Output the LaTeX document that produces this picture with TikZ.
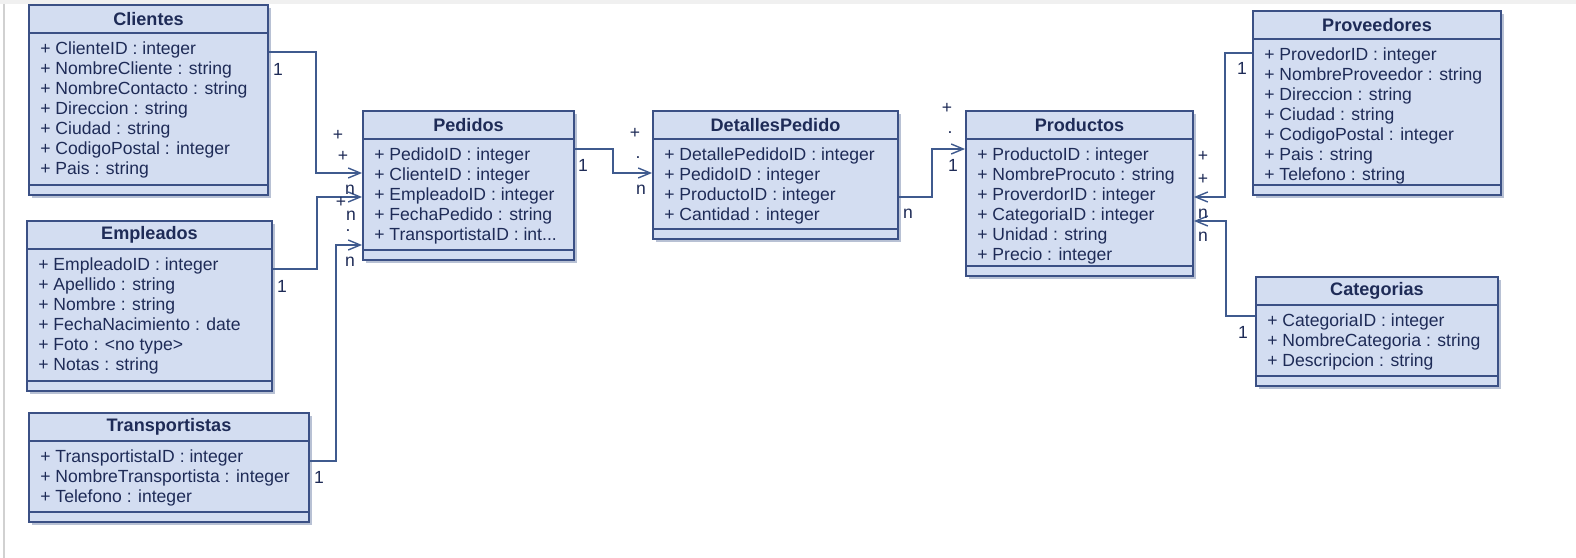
\documentclass[tikz,border=0pt]{standalone}
\usepackage{fontspec}
\setmainfont{Liberation Sans}
\usetikzlibrary{arrows.meta, fit, shadows, calc}
\definecolor{box fill}{HTML}{D3DDF1}
\definecolor{box line}{HTML}{3B5085}
\definecolor{box text}{HTML}{1E2B57}
\definecolor{link line}{HTML}{3F5A8E}
\definecolor{box shadow}{HTML}{8A98B8}

% one UML class: name, x1, y1, x2, y2 (pixels), title, attributes
\newcommand{\umlclass}[7]{%
  \node[classbox, fit={(#2,#3) (#4,#5)}] (#1) {};
  \draw[classline] (#2,{#3+28}) -- (#4,{#3+28});
  \draw[classline] (#2,{#5-10}) -- (#4,{#5-10});
  \node[classtitle] (#1-title) at ({(#2+#4)/2},{#3+14}) {#6};
  \foreach \attr [count=\i] in {#7}{
    \node[classattr] (#1-a\i) at ({#2+11},{#3+29+20*\i}) {\attr};
  };
}

\begin{document}
\begin{tikzpicture}[x=0.02cm, y=-0.02cm,
    classbox/.style={draw=box line, fill=box fill, line width=1.1pt, inner sep=0pt,
      drop shadow={shadow xshift=1.6pt, shadow yshift=-1.6pt, fill=box shadow, opacity=0.6}},
    classline/.style={draw=box line, line width=1.1pt},
    classtitle/.style={text=box text, font=\fontsize{10.3}{12}\selectfont\bfseries, inner sep=0pt},
    classattr/.style={text=box text, font=\fontsize{10}{12}\selectfont, anchor=base west, inner sep=0pt},
    assoc/.style={draw=link line, line width=0.8pt, -{Straight Barb[length=2.4mm, width=2mm]}},
    mult/.style={text=box text, font=\fontsize{10}{12}\selectfont, inner sep=0pt}]
  \useasboundingbox (0,0) rectangle (1576,558);
  \fill[white] (0,0) rectangle (1576,558);
  \fill[black!6] (0,0) rectangle (1576,4);
  \fill[black!18] (3,4) rectangle (5,558);

  \umlclass{clientes}{29}{5}{268}{195}{Clientes}{%
    + ClienteID : integer, + NombreCliente : string, + NombreContacto : string,
    + Direccion : string, + Ciudad : string, + CodigoPostal : integer, + Pais : string}
  \umlclass{empleados}{27}{221}{272}{391}{Empleados}{%
    + EmpleadoID : integer, + Apellido : string, + Nombre : string,
    + FechaNacimiento : date, + Foto : <no type>, + Notas : string}
  \umlclass{transportistas}{29}{413}{309}{522}{Transportistas}{%
    + TransportistaID : integer, + NombreTransportista : integer, + Telefono : integer}
  \umlclass{pedidos}{363}{111}{574}{260}{Pedidos}{%
    + PedidoID : integer, + ClienteID : integer, + EmpleadoID : integer,
    + FechaPedido : string, + TransportistaID : int{.}{.}{.}}
  \umlclass{detalles}{653}{111}{898}{239}{DetallesPedido}{%
    + DetallePedidoID : integer, + PedidoID : integer, + ProductoID : integer,
    + Cantidad : integer}
  \umlclass{productos}{966}{111}{1193}{276}{Productos}{%
    + ProductoID : integer, + NombreProcuto : string, + ProverdorID : integer,
    + CategoriaID : integer, + Unidad : string, + Precio : integer}
  \umlclass{proveedores}{1253}{11}{1501}{195}{Proveedores}{%
    + ProvedorID : integer, + NombreProveedor : string, + Direccion : string,
    + Ciudad : string, + CodigoPostal : integer, + Pais : string, + Telefono : string}
  \umlclass{categorias}{1256}{277}{1498}{386}{Categorias}{%
    + CategoriaID : integer, + NombreCategoria : string, + Descripcion : string}

  % associations
  \draw[assoc] (clientes.east |- 0,52) -| (316,173) -- (pedidos.west |- 0,173);
  \draw[assoc] (empleados.east |- 0,269) -| (317,197) -- (pedidos.west |- 0,197);
  \draw[assoc] (transportistas.east |- 0,461) -| (336,245) -- (pedidos.west |- 0,245);
  \draw[assoc] (pedidos.east |- 0,149) -| (613,173) -- (detalles.west |- 0,173);
  \draw[assoc] (detalles.east |- 0,197) -| (932,149) -- (productos.west |- 0,149);
  \draw[assoc] (proveedores.west |- 0,53) -| (1225,197) -- (productos.east |- 0,197);
  \draw[assoc] (categorias.west |- 0,316) -| (1226,221) -- (productos.east |- 0,221);

  % multiplicities
  \foreach \x/\y/\t [count=\k] in {278/69/1, 338/135/+, 343/156/+, 350/190/n,
      282/286/1, 341/202/+, 351/216/n, 348/231/{.}, 350/262/n, 319/477/1,
      583/165/1, 635/133/+, 638/158/{.}, 641/190/n,
      908/214/n, 947/108/+, 950/133/{.}, 953/165/1,
      1242/68/1, 1203/156/+, 1203/179/+, 1203/214/n,
      1243/332/1, 1203/237/n}{
    \node[mult] (m\k) at (\x,\y) {\t};
  };
\end{tikzpicture}
\end{document}
